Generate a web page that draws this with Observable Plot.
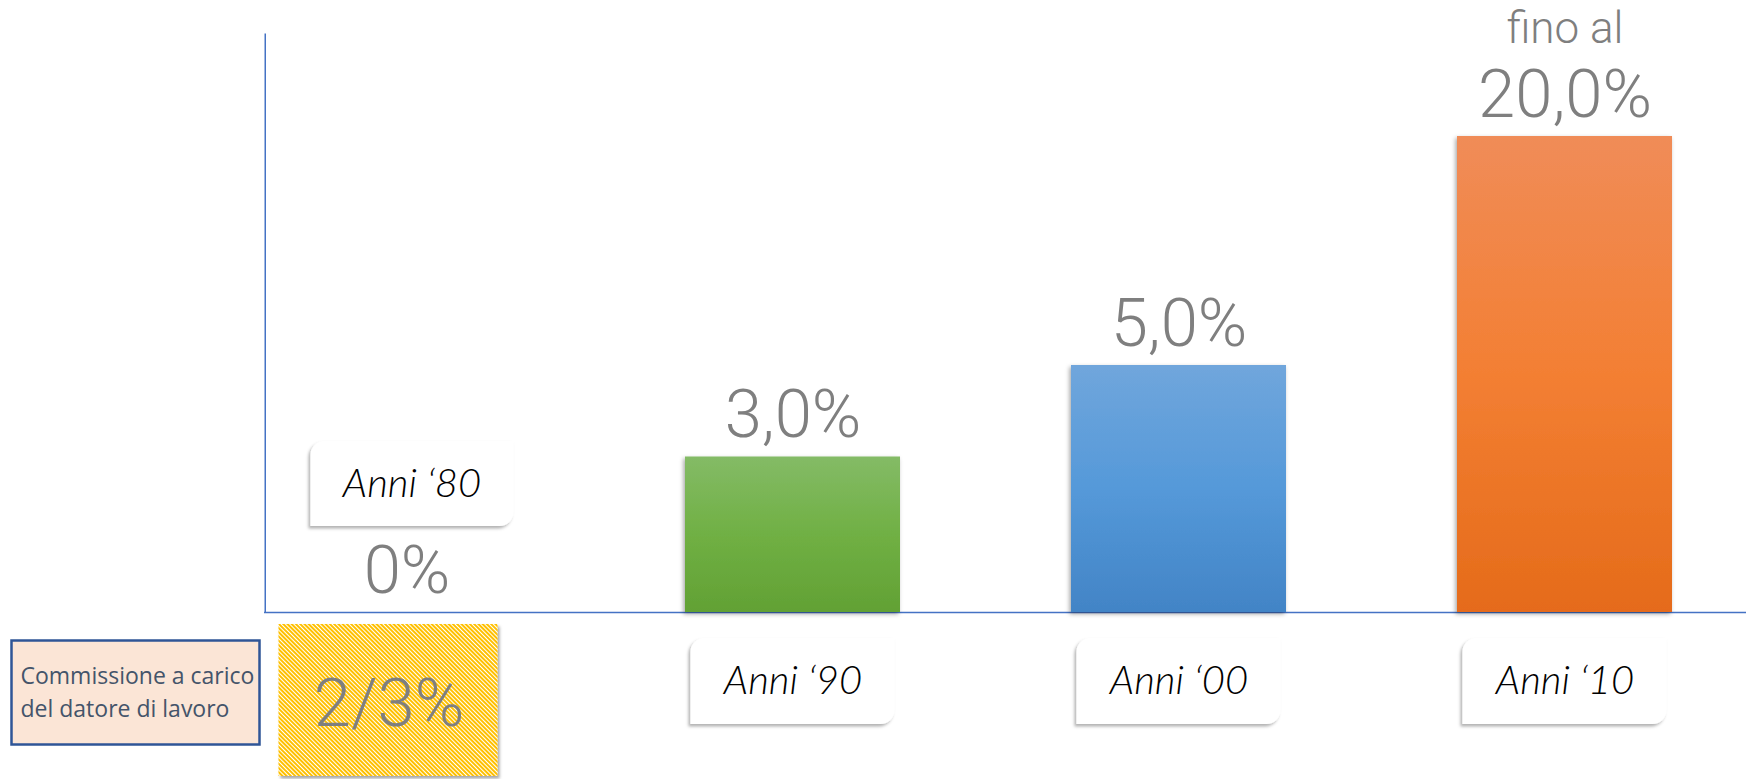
<!DOCTYPE html>
<html>
<head>
<meta charset="utf-8">
<script src="https://cdn.jsdelivr.net/npm/d3@7"></script>
<script src="https://cdn.jsdelivr.net/npm/@observablehq/plot@0.6"></script>
<style>
  html, body { margin: 0; padding: 0; background: #ffffff; }
  #chart svg { display: block; }
</style>
</head>
<body>
<div id="chart"></div>
<script>
// ---- Data ----
const categories   = ["Anni ‘80", "Anni ‘90", "Anni ‘00", "Anni ‘10"];
const values       = [0, 3, 5, 20];
const valueLabels  = ["0%", "3,0%", "5,0%", "20,0%"];
const prefixLabels = ["", "", "", "fino al"];
const barFills     = ["none", "url(#gradGreen)", "url(#gradBlue)", "url(#gradOrange)"];
const employerFeeLabel = "2/3%";
const noteLines    = ["Commissione a carico", "del datore di lavoro"];

const data = categories.map((c, i) => ({
  category: c, value: values[i], label: valueLabels[i], prefix: prefixLabels[i], fill: barFills[i]
}));
const first = categories[0];
const isFirst = d => d.category === first;
const notFirst = d => d.category !== first;

const W = 1746, H = 779;
const mL = 264, mR = 0, mT = 33, mB = 167;
const AXIS = "#4472C4";
const GRAY = "#7F7F7F";
const LABEL_FONT = "Lato, 'Open Sans', sans-serif";

const chart = Plot.plot({
  width: W, height: H,
  marginLeft: mL, marginRight: mR, marginTop: mT, marginBottom: mB,
  style: { background: "#ffffff", overflow: "visible" },
  x: { type: "band", domain: categories, range: [105, 1866], paddingInner: 0.4436, paddingOuter: 0.5, axis: null },
  y: { type: "linear", domain: values, range: [612, 456.5, 365, 136], axis: null },
  color: { type: "identity" },
  marks: [
    // note box on the left
    Plot.frame({ fill: "#FBE5D6", stroke: "#2F5597", strokeWidth: 2.5,
      insetLeft: 11 - mL, insetRight: W - mR - 259, insetTop: 640 - mT, insetBottom: (H - mB) - 744 }),
    Plot.text([noteLines.join("\n")], { frameAnchor: "bottom-left", text: d => d, textAnchor: "start",
      lineAnchor: "bottom", lineHeight: 1.43, dx: 20 - mL, dy: 104,
      fontFamily: "'Open Sans', 'Noto Sans', sans-serif", fontSize: 23, fill: "#44546A" }),

    // axis lines
    Plot.frame({ fill: AXIS, stroke: "none", insetRight: W - mL - mR - 1.5 }),
    Plot.ruleY([0], { stroke: AXIS, strokeWidth: 1.5 }),

    // hatched employer-fee box under the first category
    Plot.barY(data, { filter: isFirst, x: "category", y1: 0, y2: 0, fill: () => "url(#hatch)",
      insetLeft: -20.5, insetRight: 16.5, insetTop: 12, insetBottom: -164, ariaDescription: "hatch-box" }),

    // bars
    Plot.barY(data, { filter: d => d.value > 0, x: "category", y: "value", fill: d => d.fill,
      ariaDescription: "bars" }),

    // category label boxes
    Plot.barY(data, { filter: isFirst, x: "category", y1: 0, y2: 0, fill: "#ffffff",
      insetLeft: 11.5, insetRight: 0.5, insetTop: -171, insetBottom: 86, ariaDescription: "label-box" }),
    Plot.barY(data, { filter: notFirst, x: "category", y1: 0, y2: 0, fill: "#ffffff",
      insetLeft: 5.5, insetRight: 5.5, insetTop: 26, insetBottom: -112, ariaDescription: "label-box" }),

    // category label texts
    Plot.text(data, { filter: isFirst, x: "category", y: 0, text: "category", dx: 5, dy: -128,
      lineAnchor: "middle", fontFamily: LABEL_FONT, fontStyle: "italic", fontWeight: 300,
      fontSize: 40, fill: "#000000" }),
    Plot.text(data, { filter: notFirst, x: "category", y: 0, text: "category", dy: 69,
      lineAnchor: "middle", fontFamily: LABEL_FONT, fontStyle: "italic", fontWeight: 300,
      fontSize: 40, fill: "#000000" }),

    // value labels
    Plot.text(data, { x: "category", y: "value", text: "label", dy: -20, lineAnchor: "bottom",
      fontFamily: "Roboto, 'Open Sans', sans-serif", fontWeight: 300, fontSize: 67, fill: GRAY }),
    Plot.text(data, { filter: d => d.prefix !== "", x: "category", y: "value", text: "prefix", dy: -94,
      lineAnchor: "bottom", fontFamily: "Roboto, 'Open Sans', sans-serif", fontWeight: 300, fontSize: 44, fill: GRAY }),

    // employer fee label
    Plot.text(data, { filter: isFirst, x: "category", y: 0, text: () => employerFeeLabel, dx: -18, dy: 113,
      lineAnchor: "bottom", fontFamily: "Roboto, 'Open Sans', sans-serif", fontWeight: 300, fontSize: 67, fill: GRAY })
  ]
});

document.getElementById("chart").appendChild(chart);

// ---- SVG defs: gradients, hatch pattern, shadows ----
const svg = d3.select(chart.tagName.toLowerCase() === "svg" ? chart : chart.querySelector("svg"));
const defs = svg.insert("defs", ":first-child");
function grad(id, stops) {
  const g = defs.append("linearGradient").attr("id", id).attr("x1", 0).attr("y1", 0).attr("x2", 0).attr("y2", 1);
  stops.forEach(([o, c]) => g.append("stop").attr("offset", o).attr("stop-color", c));
}
grad("gradGreen",  [[0, "#84BB66"], [0.5, "#70B044"], [1, "#62A134"]]);
grad("gradBlue",   [[0, "#70A6DC"], [0.5, "#5599D9"], [1, "#4284C6"]]);
grad("gradOrange", [[0, "#F08C58"], [0.5, "#F37F33"], [1, "#E56B1A"]]);

const pat = defs.append("pattern").attr("id", "hatch").attr("patternUnits", "userSpaceOnUse")
  .attr("width", 3).attr("height", 3).attr("patternTransform", "rotate(-45)");
pat.append("rect").attr("width", 3).attr("height", 3).attr("fill", "#FFC000");
pat.append("rect").attr("width", 1).attr("height", 3).attr("fill", "#ffffff").attr("shape-rendering", "crispEdges");

function shadow(id, dx, dy, sd, op) {
  const f = defs.append("filter").attr("id", id).attr("x", "-20%").attr("y", "-20%").attr("width", "140%").attr("height", "140%");
  f.append("feDropShadow").attr("dx", dx).attr("dy", dy).attr("stdDeviation", sd)
    .attr("flood-color", "#000").attr("flood-opacity", op);
}
shadow("shBar", -1.5, 2, 2, 0.35);
shadow("shBox", -2, 2.5, 1.8, 0.3);
shadow("shHatch", 2, 2.5, 1.8, 0.35);

svg.selectAll('g[aria-description="bars"]').attr("filter", "url(#shBar)");
svg.selectAll('g[aria-description="label-box"]').attr("filter", "url(#shBox)");
svg.selectAll('g[aria-description="hatch-box"]').attr("filter", "url(#shHatch)");

// label boxes: rounded top-left and bottom-right corners
svg.selectAll('g[aria-description="label-box"] rect').each(function () {
  const x = +this.getAttribute("x"), y = +this.getAttribute("y");
  const w = +this.getAttribute("width"), h = +this.getAttribute("height");
  const r = 14;
  const d = `M${x},${y + r} A${r},${r} 0 0 1 ${x + r},${y} H${x + w} V${y + h - r} A${r},${r} 0 0 1 ${x + w - r},${y + h} H${x} Z`;
  const p = document.createElementNS("http://www.w3.org/2000/svg", "path");
  p.setAttribute("d", d);
  if (this.getAttribute("fill")) p.setAttribute("fill", this.getAttribute("fill"));
  this.parentNode.replaceChild(p, this);
});
</script>
</body>
</html>
